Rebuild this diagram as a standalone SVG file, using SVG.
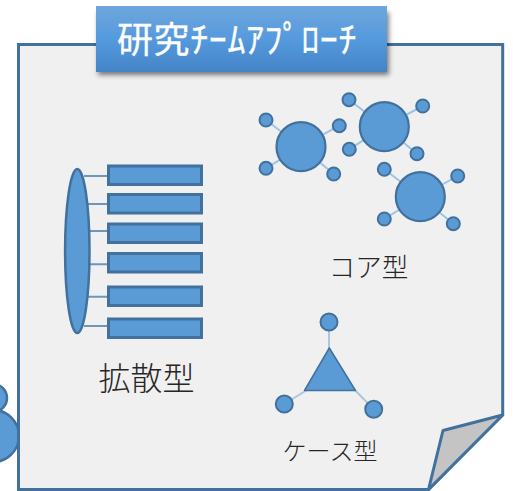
<svg xmlns="http://www.w3.org/2000/svg" width="513" height="491" viewBox="0 0 513 491">
<style>
.s{fill:#5b9bd5;stroke:#41719c;stroke-width:2}
.n{fill:#5b9bd5;stroke:#41719c;stroke-width:2.500}
.big{fill:#5b9bd5;stroke:#41719c;stroke-width:2.200}
.l{stroke:#9dc3e6;stroke-width:2;fill:none}
.m{stroke:#6f95b8;stroke-width:2;fill:none}
.t{fill:#262626;font-family:"Noto Sans CJK JP","Noto Sans",sans-serif;font-weight:300;text-anchor:middle}
.r{fill:#5b9bd5;stroke:#41719c;stroke-width:3}
</style>
<defs>
<linearGradient id="g" x1="0" y1="0" x2="0" y2="1"><stop offset="0" stop-color="#6fa6dc"/><stop offset="0.5" stop-color="#559ade"/><stop offset="1" stop-color="#4384c6"/></linearGradient>
<filter id="sh" x="-5%" y="-10%" width="110%" height="130%"><feGaussianBlur stdDeviation="2.5"/></filter>
</defs>
<rect width="513" height="491" fill="#fff"/>
<g id="figure-left">
<circle cx="-7" cy="398" r="14" class="n"/>
<circle cx="-7" cy="436" r="26" class="n"/>
</g>
<g id="page">
<path d="M18.500 44.500H502.700V415L428.500 489.500H18.500Z" fill="#f0f0f0" stroke="#41719c" stroke-width="3"/>
<path d="M502.700 415L443 430.500L428.500 489.500Z" fill="#c4c4c4" stroke="#41719c" stroke-width="3" stroke-linejoin="round"/>
</g>
<g id="title">
<rect x="98" y="12" width="291" height="63" fill="#000" opacity=".5" filter="url(#sh)"/>
<rect x="96" y="6" width="291" height="66" fill="url(#g)"/>
<text x="117" y="53" font-family="'Noto Sans CJK JP',sans-serif" font-size="36" letter-spacing=".6" fill="#fff" stroke="#fff" stroke-width=".3">研究ﾁｰﾑｱﾌﾟﾛｰﾁ</text>
</g>
<g id="connectors">
<path class="m" d="M84 176H108M88 204H108M90 231H108M90 264.300H108M88 296.700H108M84 326H108"/>
<path class="l" d="M266 120L301 146.700M339.300 125.700L301 146.700M266 168.300L301 146.700M333.700 174L301 146.700"/>
<path class="l" d="M349 99.700L384.300 126.700M422.700 106L384.300 126.700M349.300 149.300L384.300 126.700M417 153.700L384.300 126.700"/>
<path class="l" d="M384.300 169.300L420.300 196.700M457.700 176L420.300 196.700M384.300 219L420.300 196.700M453.300 223.700L420.300 196.700"/>
<path d="M329 322V360M284.300 404L315 385M373.700 409.300L345 380" stroke="#adc6dc" stroke-width="2" fill="none"/>
</g>
<g id="diffusion">
<ellipse cx="77.300" cy="251" rx="12.200" ry="82" class="n"/>
<rect class="r" x="108.500" y="166" width="93" height="18.500"/>
<rect class="r" x="108.500" y="194.500" width="93" height="18.500"/>
<rect class="r" x="108.500" y="224" width="93" height="18.500"/>
<rect class="r" x="108.500" y="253.500" width="93" height="18.500"/>
<rect class="r" x="108.500" y="287" width="93" height="18.500"/>
<rect class="r" x="108.500" y="319" width="93" height="18.500"/>
<text class="t" x="146.500" y="390" font-size="32">拡散型</text>
</g>
<g id="core">
<circle class="big" cx="301" cy="146.700" r="24.500"/>
<circle class="big" cx="384.300" cy="126.700" r="24.500"/>
<circle class="big" cx="420.300" cy="196.700" r="24.500"/>
<circle class="s" cx="266" cy="120" r="6.500"/>
<circle class="s" cx="339.300" cy="125.700" r="6.500"/>
<circle class="s" cx="266" cy="168.300" r="6.500"/>
<circle class="s" cx="333.700" cy="174" r="6.500"/>
<circle class="s" cx="349" cy="99.700" r="6.500"/>
<circle class="s" cx="422.700" cy="106" r="6.500"/>
<circle class="s" cx="349.300" cy="149.300" r="6.500"/>
<circle class="s" cx="417" cy="153.700" r="6.500"/>
<circle class="s" cx="384.300" cy="169.300" r="6.500"/>
<circle class="s" cx="457.700" cy="176" r="6.500"/>
<circle class="s" cx="384.300" cy="219" r="6.500"/>
<circle class="s" cx="453.300" cy="223.700" r="6.500"/>
<text class="t" x="368.500" y="276.500" font-size="26.500">コア型</text>
</g>
<g id="case">
<path d="M329.300 348L304.500 390.500H355.500Z" fill="#5b9bd5" stroke="#41719c" stroke-width="1.500" stroke-linejoin="round"/>
<circle class="s" cx="329" cy="322" r="8.500"/>
<circle class="s" cx="284.300" cy="404" r="8.500"/>
<circle class="s" cx="373.700" cy="409.300" r="8.500"/>
<text class="t" x="330" y="460" font-size="24">ケース型</text>
</g>
</svg>
